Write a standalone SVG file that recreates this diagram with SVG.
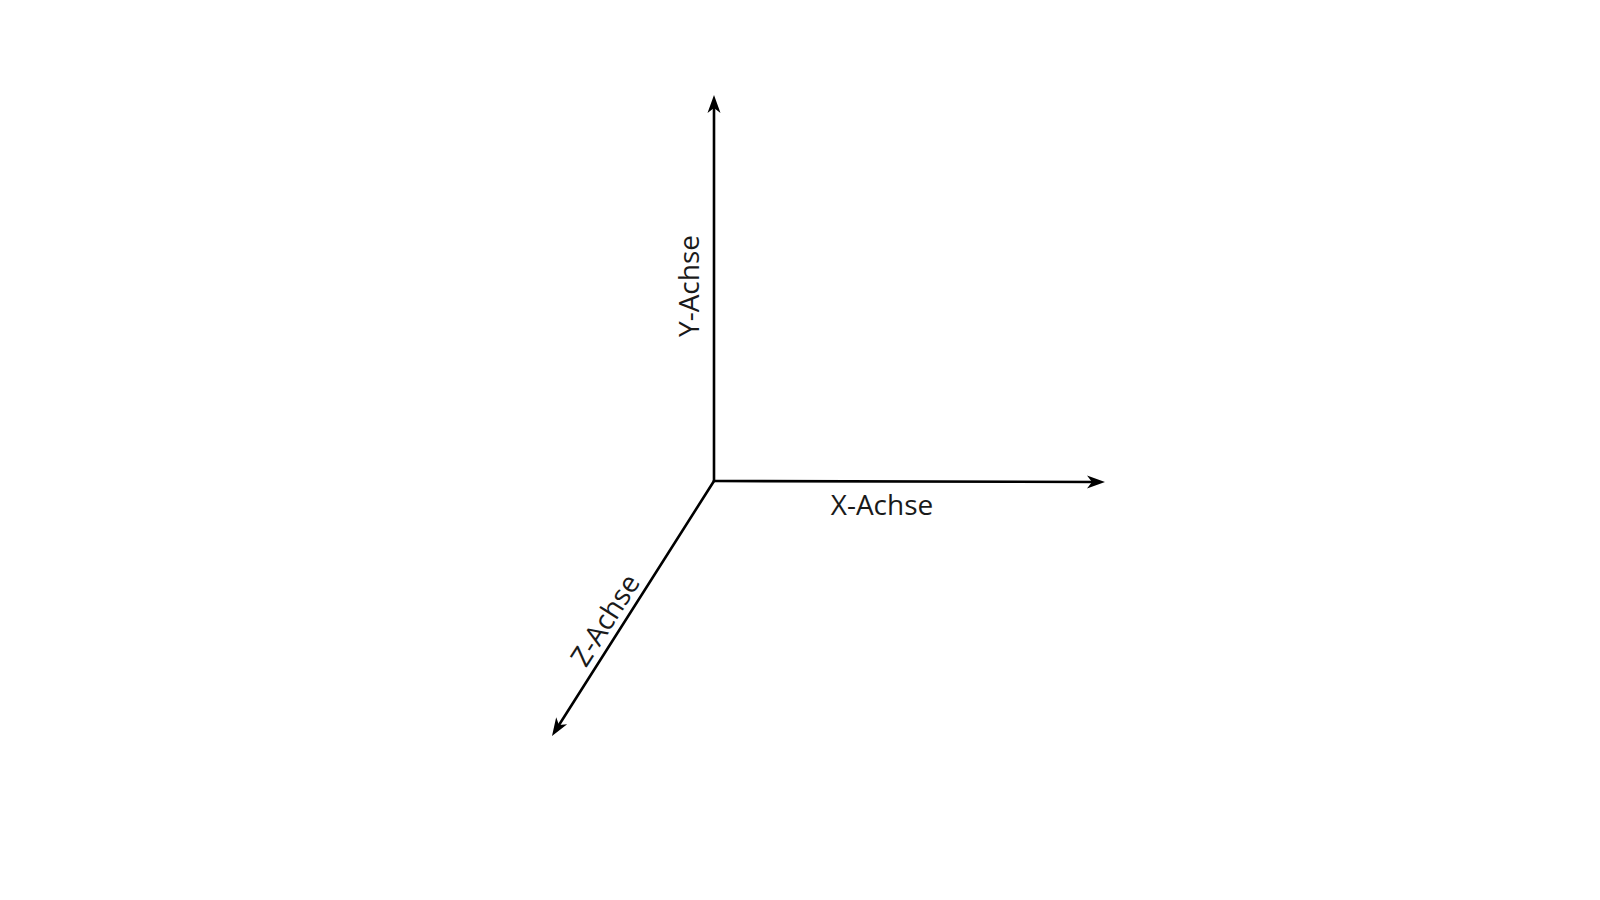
<svg xmlns="http://www.w3.org/2000/svg" width="1600" height="900" viewBox="0 0 1600 900">
  <style>
    .axis { stroke: #000; stroke-width: 2.6; fill: none; stroke-linecap: round; }
    .label { font-family: "Open Sans", "Noto Sans", "Liberation Sans", sans-serif; font-size: 28px; fill: #1a1a1a; text-anchor: middle; }
  </style>
  <defs>
    <marker id="arrow" markerUnits="userSpaceOnUse" markerWidth="24" markerHeight="20" viewBox="-12 -10 24 20" refX="0" refY="0" orient="auto" overflow="visible">
      <path d="M8,0 L-10,-6.5 L-5,0 L-10,6.5 Z" fill="#000"/>
    </marker>
  </defs>
  <rect width="1600" height="900" fill="#fff"/>
  <g id="connectors">
    <line class="axis" x1="714" y1="481" x2="714" y2="103" marker-end="url(#arrow)"/>
    <line class="axis" x1="714" y1="481" x2="1097" y2="482" marker-end="url(#arrow)"/>
    <line class="axis" x1="714" y1="481" x2="556.3" y2="729.2" marker-end="url(#arrow)"/>
  </g>
  <g id="y-axis-label">
    <text class="label" transform="translate(699,286) rotate(-90)">Y-Achse</text>
  </g>
  <g id="x-axis-label">
    <text class="label" x="882" y="515">X-Achse</text>
  </g>
  <g id="z-axis-label">
    <text class="label" transform="translate(613.4,625.4) rotate(-57.6)">Z-Achse</text>
  </g>
</svg>
